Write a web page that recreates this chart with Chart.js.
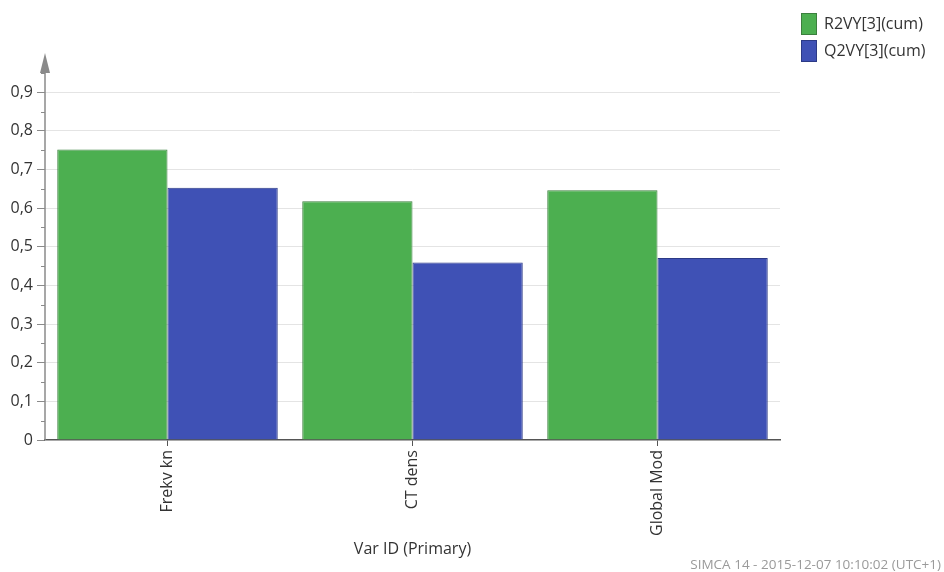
<!DOCTYPE html>
<html>
<head>
<meta charset="utf-8">
<script src="https://cdn.jsdelivr.net/npm/chart.js@4/dist/chart.umd.min.js"></script>
<style>
    html, body { margin: 0; padding: 0; background: #fff; }
    #wrap { width: 944px; height: 572px; position: relative; }
</style>
</head>
<body>
<div id="wrap"><canvas id="bar01"></canvas></div>
<script>
// 変数ごとの R2 / Q2 (累積)
const varIds = ['Frekv kn', 'CT dens', 'Global Mod'];
const r2Cum = [0.752, 0.618, 0.646];
const q2Cum = [0.653, 0.459, 0.471];
const seriesNames = ['R2VY[3](cum)', 'Q2VY[3](cum)'];
const footerText = 'SIMCA 14 - 2015-12-07 10:10:02 (UTC+1)';

const FONT = '"Open Sans", "DejaVu Sans", sans-serif';
const TICK = '#333';
const AXIS = '#8a8a8a';

const isMajor = v => Math.round(v * 20) % 2 === 0;

// y軸の矢印と短い補助目盛り
const axisArrow = {
    id: 'axisArrow',
    afterDatasetsDraw(chart) {
        const { ctx, chartArea } = chart;
        const y = chart.scales.y;
        const x0 = chartArea.left;
        ctx.save();
        ctx.strokeStyle = AXIS;
        ctx.lineWidth = 1.5;
        ctx.beginPath();
        ctx.moveTo(x0, chartArea.bottom);
        ctx.lineTo(x0, 70);
        ctx.stroke();
        y.ticks.forEach((t) => {
            if (isMajor(t.value)) return;
            const py = Math.round(y.getPixelForValue(t.value)) + 0.5;
            ctx.lineWidth = 1;
            ctx.beginPath();
            ctx.moveTo(x0 - 4, py);
            ctx.lineTo(x0, py);
            ctx.stroke();
        });
        ctx.fillStyle = AXIS;
        ctx.beginPath();
        ctx.moveTo(x0, 53);
        ctx.lineTo(x0 - 5, 73);
        ctx.lineTo(x0 + 5, 73);
        ctx.closePath();
        ctx.fill();
        ctx.restore();
    },
};

// 右上の凡例とフッター
const sideLegend = {
    id: 'sideLegend',
    afterDraw(chart) {
        const { ctx } = chart;
        ctx.save();
        chart.data.datasets.forEach((ds, i) => {
            const top = 13 + i * 27;
            ctx.fillStyle = ds.backgroundColor;
            ctx.strokeStyle = ds.borderColor;
            ctx.lineWidth = 1;
            ctx.fillRect(801, top, 16, 22);
            ctx.strokeRect(801.5, top + 0.5, 15, 21);
            ctx.fillStyle = TICK;
            ctx.font = `16px ${FONT}`;
            ctx.textBaseline = 'middle';
            ctx.textAlign = 'left';
            ctx.fillText(ds.label, 824, top + 11);
        });
        ctx.fillStyle = '#9a9a9a';
        ctx.font = `13.5px ${FONT}`;
        ctx.textAlign = 'right';
        ctx.textBaseline = 'middle';
        ctx.fillText(footerText, 941, 565);
        ctx.restore();
    },
};

const ctx = document.getElementById('bar01').getContext('2d');
const chart = new Chart(ctx, {
    type: 'bar',
    data: {
        labels: varIds,
        datasets: [
            {
                label: seriesNames[0],
                data: r2Cum,
                backgroundColor: '#4caf50',
                borderColor: '#3b7f3d',
                borderWidth: 1,
            },
            {
                label: seriesNames[1],
                data: q2Cum,
                backgroundColor: '#3f51b5',
                borderColor: '#2c3a86',
                borderWidth: 1,
            },
        ],
    },
    options: {
        responsive: true,
        maintainAspectRatio: false,
        animation: false,
        categoryPercentage: 0.9,
        barPercentage: 1.0,
        layout: {
            padding: { top: 69, right: 164, left: 0, bottom: 0 },
        },
        plugins: {
            legend: { display: false },
            tooltip: { enabled: false },
        },
        scales: {
            x: {
                offset: true,
                grid: {
                    offset: false,
                    drawOnChartArea: false,
                    tickLength: 6,
                    tickColor: '#555',
                },
                border: { color: '#555', width: 1.5 },
                ticks: {
                    minRotation: 90,
                    maxRotation: 90,
                    padding: 4,
                    color: TICK,
                    font: { family: FONT, size: 16 },
                },
                title: {
                    display: true,
                    text: 'Var ID (Primary)',
                    color: TICK,
                    font: { family: FONT, size: 16 },
                    padding: { top: 4, bottom: 13 },
                },
                afterFit(scaleInstance) {
                    scaleInstance.height = 132;
                },
            },
            y: {
                min: 0,
                max: 0.96,
                grid: {
                    color: c => (c.tick && isMajor(c.tick.value) && c.tick.value > 0.01 ? '#e4e4e4' : 'rgba(0,0,0,0)'),
                    tickColor: c => (c.tick && isMajor(c.tick.value) ? AXIS : 'rgba(0,0,0,0)'),
                    tickLength: 8,
                    lineWidth: 1,
                },
                border: { display: false },
                ticks: {
                    stepSize: 0.05,
                    includeBounds: false,
                    autoSkip: false,
                    padding: 4,
                    color: TICK,
                    font: { family: FONT, size: 16 },
                    callback(value) {
                        if (!isMajor(value)) return '';
                        const v = Math.round(value * 10) / 10;
                        return v === 0 ? '0' : v.toFixed(1).replace('.', ',');
                    },
                },
                afterFit(scaleInstance) {
                    scaleInstance.width = 45;
                },
            },
        },
    },
    plugins: [axisArrow, sideLegend],
});
</script>
</body>
</html>
